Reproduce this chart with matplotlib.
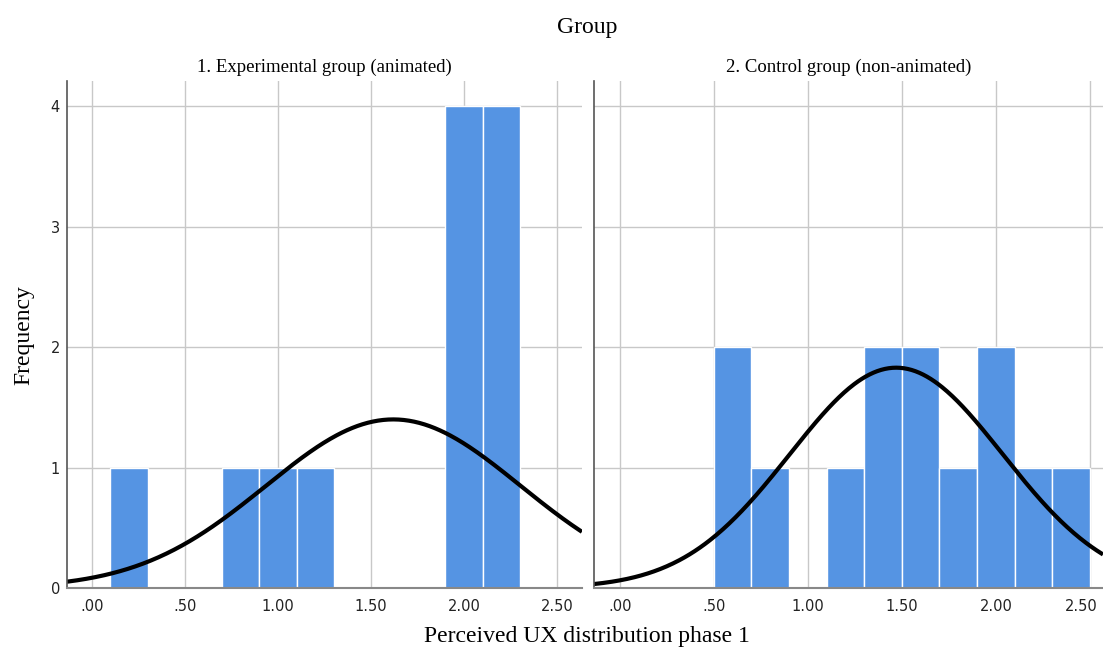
import numpy as np
import matplotlib
matplotlib.use("Agg")
from matplotlib import pyplot as plt
from matplotlib.transforms import ScaledTranslation

# histogram bins (width .20) and counts per group
bin_edges = [0.1, 0.3, 0.5, 0.7, 0.9, 1.1, 1.3, 1.5, 1.7, 1.9, 2.1, 2.3, 2.5]
exp_counts = [1, 0, 0, 1, 1, 1, 0, 0, 0, 4, 4, 0]
ctl_counts = [0, 0, 2, 1, 0, 1, 2, 2, 1, 2, 1, 1]

# normal curve parameters
exp_mean, exp_sd, exp_n = 1.62, 0.684, 12
ctl_mean, ctl_sd, ctl_n = 1.47, 0.567, 13

panel_titles = ["1. Experimental group (animated)", "2. Control group (non-animated)"]
xticks = [0, 0.5, 1.0, 1.5, 2.0, 2.5]
xticklabels = [".00", ".50", "1.00", "1.50", "2.00", "2.50"]
yticks = [0, 1, 2, 3, 4]

bar_color = "#5594e3"
serif = ["Liberation Serif", "DejaVu Serif"]

fig = plt.figure(figsize=(11.03, 6.5), dpi=100)
ax1 = fig.add_axes([0.0607, 0.0954, 0.4669, 0.78])
ax2 = fig.add_axes([0.5385, 0.0954, 0.4615, 0.78])

panels = [
    (ax1, exp_counts, exp_mean, exp_sd, exp_n, (-0.134, 2.634)),
    (ax2, ctl_counts, ctl_mean, ctl_sd, ctl_n, (-0.138, 2.57)),
]
widths = np.diff(bin_edges)
for i, (ax, counts, mu, sd, n, xl) in enumerate(panels):
    ax.set_axisbelow(True)
    ax.grid(True, color="#c8c8c8", linewidth=1.0)
    ax.bar(bin_edges[:-1], counts, width=widths, align="edge",
           color=bar_color, edgecolor="white", linewidth=1.0)
    xs = np.linspace(xl[0], xl[1], 400)
    ys = n * 0.2 / (sd * np.sqrt(2 * np.pi)) * np.exp(-0.5 * ((xs - mu) / sd) ** 2)
    ax.plot(xs, ys, color="black", linewidth=3, solid_capstyle="butt")
    ax.set_xlim(*xl)
    ax.set_ylim(0, 4.21)
    ax.set_xticks(xticks)
    ax.set_xticklabels(xticklabels)
    ax.set_yticks(yticks)
    ax.tick_params(length=0, labelsize=10.5, colors="#222222")
    ax.tick_params(axis="x", pad=8)
    ax.tick_params(axis="y", pad=5)
    ax.spines["top"].set_visible(False)
    ax.spines["right"].set_visible(False)
    ax.spines["left"].set_color("#555555")
    ax.spines["bottom"].set_color("#888888")
    ax.spines["left"].set_linewidth(1.2)
    ax.spines["bottom"].set_linewidth(1.5)
    ax.set_title(panel_titles[i], fontsize=13.5, family=serif, pad=6.5)
    if i == 1:
        ax.set_yticklabels([])

# last tick label on the right panel is pulled inside the figure edge
last = ax2.get_xticklabels()[-1]
last.set_horizontalalignment("right")
last.set_transform(last.get_transform() + ScaledTranslation(8 / 100, 0, fig.dpi_scale_trans))

fig.text(0.532, 0.958, "Group", ha="center", va="center", fontsize=17, family=serif)
fig.text(0.532, 0.021, "Perceived UX distribution phase 1", ha="center", va="center",
         fontsize=17, family=serif)
fig.text(0.022, 0.485, "Frequency", ha="center", va="center", rotation=90,
         fontsize=17, family=serif)

fig.savefig("out.png", dpi=100)
